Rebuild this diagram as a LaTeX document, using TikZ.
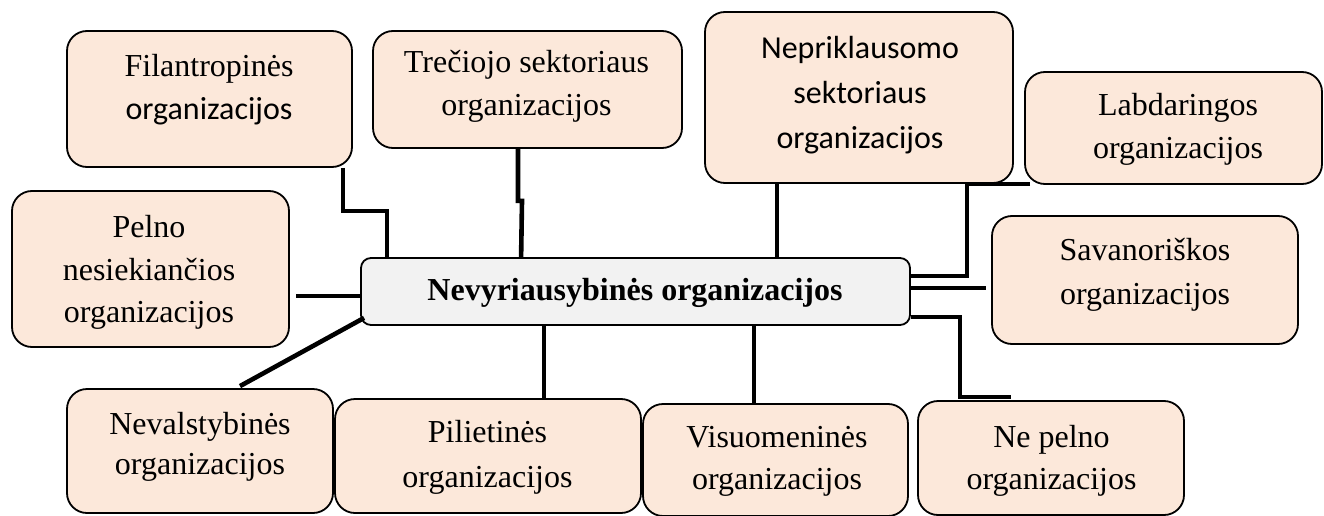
\documentclass[tikz,border=0pt]{standalone}
\usepackage{fontspec}
\setmainfont{Liberation Serif}
\newfontfamily\calib{Carlito}
\definecolor{peach}{RGB}{252,232,218}
\definecolor{lightgraybox}{RGB}{242,242,242}
\tikzset{
  box/.style={draw=black, line width=1.8pt, rounded corners=20pt, fill=peach, inner sep=0pt},
  hub/.style={draw=black, line width=1.8pt, rounded corners=10pt, fill=lightgraybox, inner sep=0pt},
  txt/.style={align=center, inner sep=0pt, font=\fontsize{32}{43}\selectfont},
  conn/.style={line width=4.6pt, draw=black}
}
\begin{document}
\begin{tikzpicture}[x=1pt,y=-1pt]
\useasboundingbox (0,0) rectangle (1324,516);
% boxes
\node[box, minimum width=285pt, minimum height=136pt] (fil) at (209.5,99) {};
\node[box, minimum width=309pt, minimum height=117pt] (tre) at (527.5,89.5) {};
\node[box, minimum width=308pt, minimum height=171pt] (nep) at (859,97.5) {};
\node[box, minimum width=297pt, minimum height=112pt] (lab) at (1173.5,128) {};
\node[box, minimum width=277pt, minimum height=156pt] (pel) at (150.5,269) {};
\node[box, minimum width=306pt, minimum height=128pt] (sav) at (1145,280) {};
\node[box, minimum width=266pt, minimum height=124pt] (nev) at (200,451) {};
\node[box, minimum width=306pt, minimum height=114pt] (pil) at (488,456) {};
\node[box, minimum width=265pt, minimum height=112pt] (vis) at (775.5,460) {};
\node[box, minimum width=266pt, minimum height=114pt] (nop) at (1051,458) {};
\node[hub, minimum width=549pt, minimum height=67pt] (hub) at (635.5,291.5) {};
% texts
\node[txt] (filt) at (209,89.5) {Filantropinės\\{\calib organizacijos}};
\node[txt] (tret) at (526.5,86.5) {Trečiojo sektoriaus\\organizacijos};
\node[txt, font=\calib\fontsize{32}{45}\selectfont] (nept) at (860,95) {Nepriklausomo\\sektoriaus\\organizacijos};
\node[txt] (labt) at (1178,129.5) {Labdaringos\\organizacijos};
\node[txt, font=\fontsize{32}{42.5}\selectfont] (pelt) at (149,272.5) {Pelno\\nesiekiančios\\organizacijos};
\node[txt, font=\fontsize{32}{44}\selectfont] (savt) at (1145,275) {Savanoriškos\\organizacijos};
\node[txt, font=\fontsize{32}{40}\selectfont] (nevt) at (200,447) {Nevalstybinės\\organizacijos};
\node[txt, font=\fontsize{32}{45}\selectfont] (pilt) at (487.5,457.5) {Pilietinės\\organizacijos};
\node[txt, font=\fontsize{32}{42}\selectfont] (vist) at (777,461) {Visuomeninės\\organizacijos};
\node[txt, font=\fontsize{32}{42}\selectfont] (nopt) at (1051.5,461) {Ne pelno\\organizacijos};
\node[txt, font=\bfseries\fontsize{32}{40}\selectfont] (hubt) at (635,293) {Nevyriausybinės organizacijos};
% helper coordinates for free ends
\coordinate (savin) at ([xshift=-5pt]sav.west);
\coordinate (pelout) at ([xshift=6pt]pel.east);
% connectors
\draw[conn] ([xshift=-10pt]fil.south east) -- ++(0,43) -| ([xshift=27pt]hub.north west);
\draw[conn] ([xshift=-9.5pt]tre.south) -- ++(0,52) -- ++(4,0) -- ([xshift=161pt]hub.north west);
\draw[conn] ([xshift=-82pt]nep.south) -- ([xshift=-82pt]nep.south |- hub.north);
\draw[conn] ([xshift=6pt,yshift=1pt]lab.south west) -- ++(-63,0) |- ([yshift=15.5pt]hub.east);
\draw[conn] ([yshift=3.5pt]hub.east) -- ([yshift=3.5pt]hub.east -| savin);
\draw[conn] ([yshift=-25.5pt]hub.east) -- ++(49,0) |- ([xshift=94pt,yshift=3pt]nop.north west);
\draw[conn] ([yshift=-4.5pt]hub.west) -- ([yshift=-4.5pt]hub.west -| pelout);
\draw[conn] ([xshift=4pt,yshift=8pt]hub.south west) -- ([xshift=40pt,yshift=2pt]nev.north);
\draw[conn] ([xshift=-91.5pt]hub.south) -- ([xshift=-91.5pt]hub.south |- pil.north);
\draw[conn] ([xshift=118.5pt]hub.south) -- ([xshift=118.5pt]hub.south |- vis.north);
\end{tikzpicture}
\end{document}
